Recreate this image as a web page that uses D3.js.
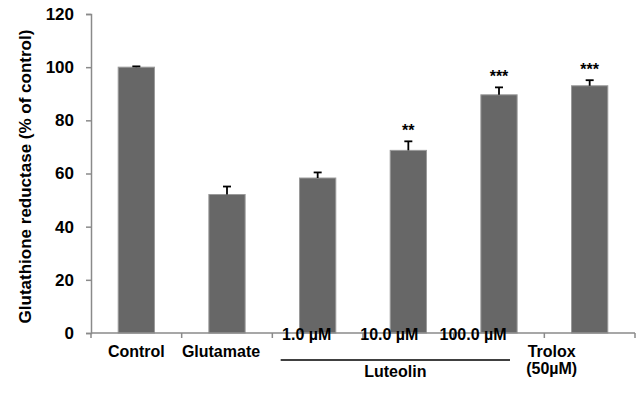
<!DOCTYPE html>
<html>
<head>
<meta charset="utf-8">
<script src="https://cdn.jsdelivr.net/npm/d3@7"></script>
<style>
  html, body { margin: 0; padding: 0; background: #fff; }
  svg { display: block; font-family: "Liberation Sans", Arial, sans-serif; }
</style>
</head>
<body>
<svg id="chart" width="640" height="401"></svg>
<script>
// Glutathione reductase activity, % of control (mean ± SE)
const categories = ["Control", "Glutamate", "1.0 µM", "10.0 µM", "100.0 µM", "Trolox"];
const means = [100, 52.1, 58.3, 68.7, 89.6, 93.0];
const errors = [0.3, 3.0, 2.1, 3.4, 2.8, 2.1];
const significance = ["", "", "", "**", "***", "***"];
const yTicks = [0, 20, 40, 60, 80, 100, 120];
const categoryLabels = [["Control"], ["Glutamate"], ["1.0 µM"], ["10.0 µM"], ["100.0 µM"], ["Trolox", "(50µM)"]];
const groupLabel = "Luteolin";
const yTitle = "Glutathione reductase (% of control)";

// layout
const plotLeft = 91, plotRight = 635, plotTop = 14, plotBottom = 333;
const labelShift = [0, -6, -11, -19, -26, -38];
const labelBaseline = [357, 357, 340, 340, 340, 357];

const svg = d3.select("#chart");

const x = d3.scaleBand().domain(categories).range([plotLeft, plotRight]).paddingInner(0.6).paddingOuter(0.3);
const y = d3.scaleLinear().domain([0, 120]).range([plotBottom, plotTop]);
const step = x.step();
const bandStart = i => plotLeft + i * step;

const axisColor = "#8a8a8a";

// y axis
const yAxis = svg.append("g")
  .attr("transform", `translate(${plotLeft},0)`)
  .call(d3.axisLeft(y).tickValues(yTicks).tickSize(5).tickPadding(12).tickFormat(d3.format("d")));
yAxis.select(".domain").attr("stroke", axisColor).attr("stroke-width", 1.5);
yAxis.selectAll(".tick line").attr("stroke", axisColor).attr("stroke-width", 1.5);
yAxis.selectAll(".tick text")
  .attr("font-family", "Liberation Sans, Arial, sans-serif")
  .attr("font-size", 17).attr("font-weight", "bold").attr("fill", "#000");

// bars
svg.append("g").selectAll("rect").data(categories).join("rect")
  .attr("x", d => x(d))
  .attr("width", x.bandwidth())
  .attr("y", (d, i) => y(means[i]))
  .attr("height", (d, i) => y(0) - y(means[i]))
  .attr("fill", "#676767")
  .attr("stroke", "#9a9a9a")
  .attr("stroke-width", 1);

// error bars (upper only)
const eb = svg.append("g").attr("stroke", "#000").attr("stroke-width", 1.8);
categories.forEach((c, i) => {
  const cx = x(c) + x.bandwidth() / 2;
  eb.append("line").attr("x1", cx).attr("x2", cx)
    .attr("y1", y(means[i])).attr("y2", y(means[i] + errors[i]));
  eb.append("line").attr("x1", cx - 4).attr("x2", cx + 4)
    .attr("y1", y(means[i] + errors[i])).attr("y2", y(means[i] + errors[i]));
});

// significance marks
svg.append("g").selectAll("text").data(categories).join("text")
  .attr("x", d => x(d) + x.bandwidth() / 2)
  .attr("y", (d, i) => y(means[i] + errors[i]) - 5)
  .attr("text-anchor", "middle")
  .attr("font-size", 16).attr("font-weight", "bold")
  .text((d, i) => significance[i]);

// x axis
const xAxis = svg.append("g");
xAxis.append("line")
  .attr("x1", plotLeft).attr("x2", plotRight).attr("y1", plotBottom).attr("y2", plotBottom)
  .attr("stroke", axisColor).attr("stroke-width", 1.5);
xAxis.selectAll("line.tick").data(d3.range(categories.length + 1)).join("line")
  .attr("class", "tick")
  .attr("x1", i => bandStart(i)).attr("x2", i => bandStart(i))
  .attr("y1", plotBottom).attr("y2", plotBottom + 5)
  .attr("stroke", axisColor).attr("stroke-width", 1.5);

// category labels
const lab = svg.append("g").attr("font-size", 16).attr("font-weight", "bold").attr("text-anchor", "middle");
categories.forEach((c, i) => {
  const cx = x(c) + x.bandwidth() / 2 + labelShift[i];
  categoryLabels[i].forEach((t, j) => {
    lab.append("text").attr("x", cx).attr("y", labelBaseline[i] + j * 17).text(t);
  });
});

// Luteolin group bracket
const g0 = x(categories[2]) + x.bandwidth() / 2 + labelShift[2] - 26;
const g1 = x(categories[4]) + x.bandwidth() / 2 + labelShift[4] + 37;
svg.append("line").attr("x1", g0).attr("x2", g1).attr("y1", 360).attr("y2", 360)
  .attr("stroke", "#000").attr("stroke-width", 1.3);
svg.append("text").attr("x", (g0 + g1) / 2).attr("y", 377)
  .attr("text-anchor", "middle").attr("font-size", 16).attr("font-weight", "bold")
  .text(groupLabel);

// y axis title
svg.append("text")
  .attr("transform", `translate(31,176.5) rotate(-90)`)
  .attr("text-anchor", "middle").attr("font-size", 17).attr("font-weight", "bold")
  .text(yTitle);
</script>
</body>
</html>
